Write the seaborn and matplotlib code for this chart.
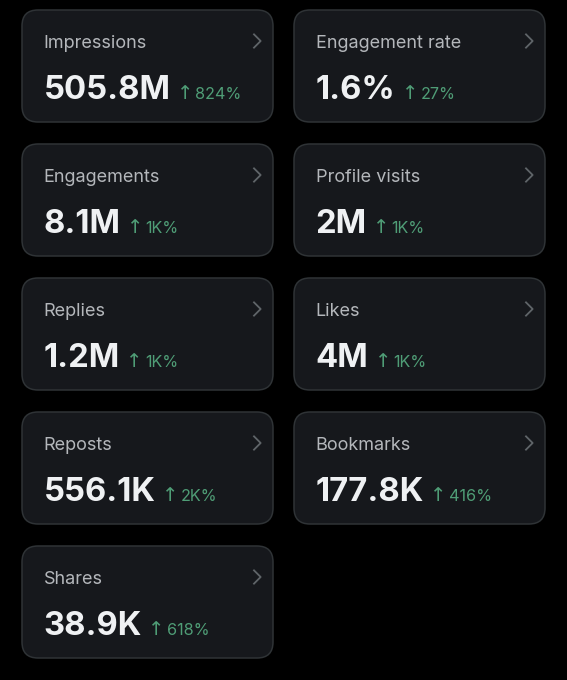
import matplotlib
matplotlib.use("Agg")
import matplotlib.pyplot as plt
import seaborn as sns
import pandas as pd
from matplotlib.patches import FancyBboxPatch
from matplotlib.path import Path

labels = ["Impressions", "Engagement rate", "Engagements", "Profile visits", "Replies",
          "Likes", "Reposts", "Bookmarks", "Shares"]
values = ["505.8M", "1.6%", "8.1M", "2M", "1.2M", "4M", "556.1K", "177.8K", "38.9K"]
changes = ["824%", "27%", "1K%", "1K%", "1K%", "1K%", "2K%", "416%", "618%"]

BG = "#000000"
CARD = "#16181c"
EDGE = "#2f3336"
LABEL = "#b4b7bb"
VALUE = "#eff1f3"
GREEN = "#4f9d76"
CHEV = "#5f6468"

sns.set_theme(style="dark", rc={"figure.facecolor": BG, "axes.facecolor": BG})
plt.rcParams["font.family"] = ["Inter", "DejaVu Sans"]

fig = plt.figure(figsize=(5.67, 6.80), dpi=100, facecolor=BG)
ax = fig.add_axes([0, 0, 1, 1])
ax.set_xlim(0, 567)
ax.set_ylim(680, 0)
ax.axis("off")

CARD_W, CARD_H = 251, 112
COL_X = [22, 294]
ROW_Y = [10, 144, 278, 412, 546]
chevron = Path([(-0.5, -1), (0.5, 0), (-0.5, 1)], [Path.MOVETO, Path.LINETO, Path.LINETO])

fig.canvas.draw()
renderer = fig.canvas.get_renderer()
chev_x, chev_y = [], []
for i, (lab, val, chg) in enumerate(zip(labels, values, changes)):
    x0 = COL_X[i % 2]
    y0 = ROW_Y[i // 2]
    r = 16
    ax.add_patch(FancyBboxPatch((x0 + r, y0 + r), CARD_W - 2 * r, CARD_H - 2 * r,
                                boxstyle=f"round,pad={r},rounding_size={r}",
                                fc=CARD, ec=EDGE, lw=1.1))
    ax.text(x0 + 21.5, y0 + 38, lab, color=LABEL, fontsize=13, va="baseline", ha="left")
    t = ax.text(x0 + 21.5, y0 + 89, val, color=VALUE, fontsize=23.6, fontweight="bold",
                va="baseline", ha="left")
    bb = t.get_window_extent(renderer)
    ax.text(bb.x1 + 6.5, y0 + 89, "↑", color=GREEN, fontsize=14, va="baseline", ha="left",
            family=["DejaVu Sans"])
    ax.text(bb.x1 + 25, y0 + 89, chg, color=GREEN, fontsize=11.7, va="baseline", ha="left")
    chev_x.append(x0 + 235)
    chev_y.append(y0 + 31)

sns.scatterplot(data=pd.DataFrame({"x": chev_x, "y": chev_y}), x="x", y="y", ax=ax,
                marker=chevron, s=110, facecolors="none", edgecolor=CHEV,
                linewidth=1.3, legend=False, zorder=5)
ax.set_xlim(0, 567)
ax.set_ylim(680, 0)
ax.axis("off")
fig.savefig("out.png", dpi=100, facecolor=BG)
